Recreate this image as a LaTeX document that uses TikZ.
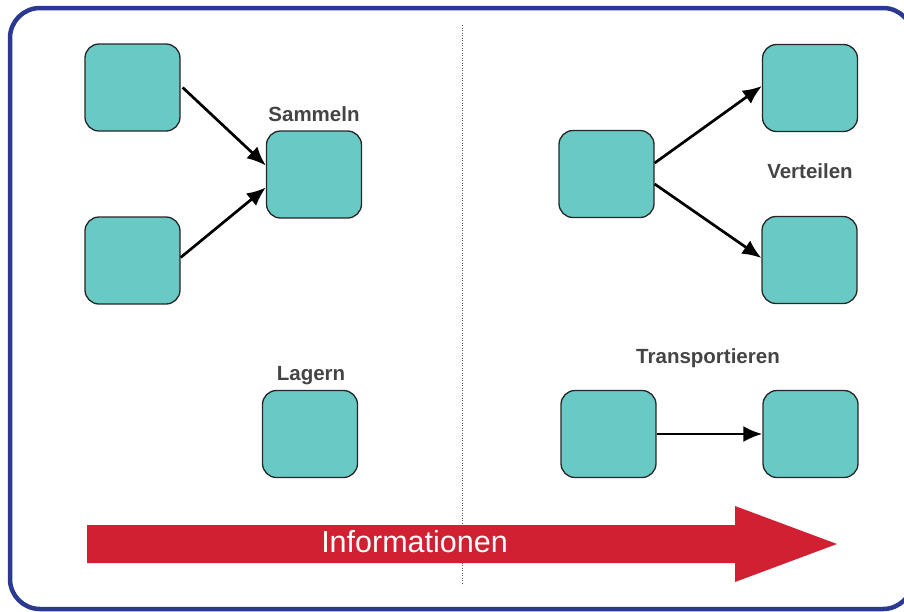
\documentclass[tikz,border=0pt]{standalone}
\usepackage{fontspec}
\setmainfont{Liberation Sans}
\usetikzlibrary{arrows.meta,calc}
\definecolor{frameblue}{RGB}{43,58,144}
\definecolor{boxteal}{RGB}{104,201,197}
\definecolor{flowred}{RGB}{208,32,50}
\definecolor{labelgray}{RGB}{68,68,68}
\tikzset{
  box/.style={draw=black!85, fill=boxteal, line width=1.3pt, rounded corners=14pt,
    minimum width=95pt, minimum height=87pt, inner sep=0pt},
  lbl/.style={text=labelgray, font=\fontsize{20.5}{24}\selectfont\bfseries, inner sep=0pt},
  link/.style={line width=2.7pt, -{Latex[length=19pt,width=16pt]}}
}
\begin{document}
\begin{tikzpicture}[x=1pt,y=-1pt]
\useasboundingbox (0,0) rectangle (904,611);
\clip (0,0) rectangle (904,611);

% outer frame
\draw[frameblue, line width=4.5pt, rounded corners=30pt] (10,8) rectangle (913,609);

% divider
\draw[gray!70!black, line width=1pt, dash pattern=on 1.2pt off 1.3pt] (462,25) -- (462,585);

% left half: collecting and storing
\node[box] (a1) at (132.5,87.5) {};
\node[box] (a2) at (132.5,260.5) {};
\node[box] (s) at (314,174.5) {};
\node[lbl] at (314,114) {Sammeln};
\node[box] (lag) at (310,434) {};
\node[lbl] at (311,376) {Lagern};

\draw[link] ($(a1.east)+(2,0)$) -- ($(s.west)+(0,-9)$);
\draw[link] ($(a2.east)+(0,-3)$) -- ($(s.west)+(0,13)$);

% right half: distributing and transporting
\node[box] (v) at (606.5,174) {};
\node[box] (v1) at (810,88) {};
\node[box] (v2) at (809.5,260) {};
\node[lbl] at (810,171) {Verteilen};

\draw[link] ($(v.east)+(0,-11)$) -- ($(v1.west)+(0,-2)$);
\draw[link] ($(v.east)+(0,10)$) -- ($(v2.west)+(0,-2)$);

\node[box] (t1) at (608.5,434) {};
\node[box] (t2) at (810.5,434) {};
\node[lbl] at (708,358) {Transportieren};

\draw[link] (t1.east) -- (t2.west);

% information flow arrow
\fill[flowred] (87,525) -- (735,525) -- (735,506) -- (837,544) -- (735,582) -- (735,563) -- (87,563) -- cycle;
\node[text=white, font=\fontsize{30.5}{34}\selectfont, inner sep=0pt] (info) at (414.5,542) {Informationen};
\end{tikzpicture}
\end{document}
